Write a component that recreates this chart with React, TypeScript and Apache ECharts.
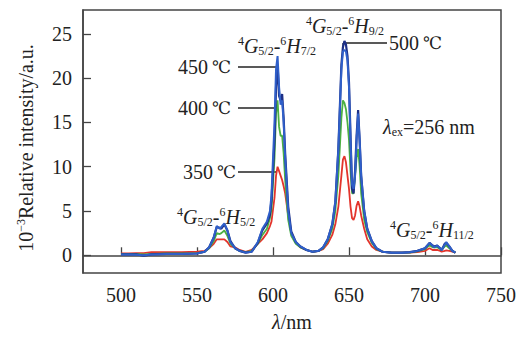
import React, { useEffect, useRef } from "react";
import * as echarts from "echarts";

const FONT = "Liberation Serif";
const TXT = "#222";

const wavelengths = [
  500, 505, 510, 515, 520, 530, 540, 550, 555, 558, 561, 563, 565, 566, 568, 570, 572, 575, 578, 582,
  586, 590, 593, 596, 598, 599, 601, 602, 603, 604, 605, 606, 607, 608, 610, 612, 615, 618, 622, 626,
  630, 633, 636, 639, 641, 643, 645, 646, 647, 648, 649, 650, 651, 652, 653, 654, 655, 656, 657, 658,
  660, 662, 665, 668, 672, 678, 685, 690, 695, 700, 702, 703, 705, 706, 708, 710, 711, 713, 714, 716,
  718, 720,
];

const t350 = [
  0.2, 0.2, 0.25, 0.25, 0.35, 0.35, 0.35, 0.4, 0.5, 0.8, 1.3, 1.8, 1.8, 1.8, 1.8, 1.5, 1.0, 0.9, 0.6, 0.4,
  0.6, 1.3, 1.8, 2.5, 3.3, 3.8, 6.5, 9, 10, 9.5, 9, 8.5, 7.8, 7, 4.5, 2.5, 1.4, 0.9, 0.6, 0.4,
  0.5, 0.7, 1.3, 2.3, 3.5, 5.5, 9, 10.8, 11.2, 10.5, 9, 7.5, 5.5, 4.2, 4, 4.5, 5.6, 6.1, 5.5, 4.5,
  3, 1.8, 1, 0.6, 0.4, 0.3, 0.3, 0.3, 0.35, 0.5, 0.7, 0.8, 0.6, 0.6, 0.6, 0.5, 0.4, 0.5, 0.55, 0.5,
  0.4, 0.3,
];

const t400 = [
  0.15, 0.15, 0.15, 0.1, 0.15, 0.2, 0.2, 0.25, 0.4, 0.8, 1.6, 2.5, 2.4, 2.5, 2.8, 2.2, 1.3, 0.8, 0.5, 0.35,
  0.5, 1.3, 2.3, 3.0, 4.2, 5.2, 11, 16, 17.5, 14.5, 13.5, 13.5, 11.5, 8.5, 4, 2.2, 1.3, 0.9, 0.6, 0.4,
  0.5, 0.8, 1.6, 3.0, 5, 9, 15.5, 17.5, 17.2, 16.5, 15, 13, 9.5, 7, 7, 9, 11, 12, 10, 7,
  4, 2.6, 1.4, 0.7, 0.4, 0.3, 0.3, 0.3, 0.45, 0.7, 1.0, 1.1, 0.9, 0.9, 0.9, 0.7, 0.6, 1.0, 1.1, 0.8,
  0.5, 0.3,
];

const t450 = [
  0.1, 0.1, 0.05, 0.0, 0.1, 0.15, 0.15, 0.2, 0.4, 0.9, 2.0, 3.3, 3.0, 3.2, 3.6, 2.8, 1.5, 0.8, 0.5, 0.3,
  0.4, 1.5, 3.0, 3.8, 5.0, 6.8, 15, 21, 22.5, 19, 17, 17.5, 15, 11, 5, 2.5, 1.5, 1.0, 0.6, 0.4,
  0.5, 0.9, 1.8, 3.5, 6, 12, 21, 23, 23.2, 23, 22, 19, 13, 8, 7.5, 9, 13, 16, 13, 9,
  5, 3, 1.6, 0.8, 0.4, 0.3, 0.3, 0.35, 0.5, 0.8, 1.2, 1.4, 1.1, 0.9, 1.1, 0.8, 0.6, 1.2, 1.5, 1.0,
  0.5, 0.3,
];

const t500 = [
  0.1, 0.1, 0.1, -0.05, 0.1, 0.15, 0.15, 0.2, 0.4, 0.9, 2.0, 3.2, 3.1, 3.0, 3.5, 2.8, 1.6, 0.8, 0.5, 0.3,
  0.4, 1.4, 2.8, 3.6, 4.6, 6.2, 13, 19, 21.5, 18, 17.5, 18.2, 15.5, 11.5, 5.5, 2.7, 1.5, 1.0, 0.6, 0.4,
  0.5, 0.9, 1.8, 3.5, 6, 12, 21.5, 23.5, 24.2, 23.8, 22.5, 19.5, 13.5, 7.5, 7.0, 9.5, 13.5, 16.4, 13, 9,
  5, 3, 1.6, 0.8, 0.4, 0.3, 0.3, 0.35, 0.5, 0.8, 1.2, 1.4, 1.1, 1.0, 1.1, 0.8, 0.6, 1.3, 1.4, 1.0,
  0.5, 0.3,
];

const xTicks = [500, 550, 600, 650, 700, 750];
const yTicks = [0, 5, 10, 15, 20, 25];

const rich: any = {
  n: { fontSize: 20, fontFamily: FONT, color: TXT, lineHeight: 22 },
  i: { fontSize: 20, fontFamily: FONT, fontStyle: "italic", color: TXT, lineHeight: 22 },
  sup: { fontSize: 12, fontFamily: FONT, color: TXT, lineHeight: 12, verticalAlign: "top" },
  sub: { fontSize: 12, fontFamily: FONT, color: TXT, lineHeight: 12, verticalAlign: "bottom" },
};

const trans = (lower: string) => `{sup|4}{i|G}{sub|5/2}{n|-}{sup|6}{i|H}{sub|${lower}}`;

const txt = (x: number, y: number, text: string, align = "left") => ({
  type: "text",
  x,
  y,
  style: { text, rich, align, verticalAlign: "middle", fill: TXT, font: `20px '${FONT}'` },
});

const plain = (x: number, y: number, text: string, align: string, font: string) => ({
  type: "text",
  x,
  y,
  style: { text, align, verticalAlign: "middle", fill: TXT, font },
});

// temperature label: number then the ℃ sign as its own text element
const temp = (xRight: number, y: number, t: string) => [
  plain(xRight - 23, y, t, "right", `20px '${FONT}'`),
  plain(xRight, y, "℃", "right", `17px 'DejaVu Serif', 'Noto Sans CJK SC', serif`),
];

const line = (x1: number, y1: number, x2: number, y2: number) => ({
  type: "line",
  shape: { x1, y1, x2, y2 },
  style: { stroke: "#222", lineWidth: 1.3 },
});

export default function App() {
  const ref = useRef<HTMLDivElement>(null);
  useEffect(() => {
    document.body.style.margin = "0";
    if (!ref.current) return;
    const chart = echarts.init(ref.current, null, { renderer: "svg" });
    const mk = (name: string, vals: number[], color: string, width: number) => ({
      name,
      type: "line",
      data: wavelengths.map((w, i) => [w, vals[i]]),
      showSymbol: false,
      lineStyle: { color, width },
      itemStyle: { color },
    });
    chart.setOption({
      animation: false,
      backgroundColor: "#fff",
      grid: {
        left: 83,
        right: 19,
        top: 10,
        bottom: 59,
        show: true,
        borderColor: "#444",
        borderWidth: 1.5,
        backgroundColor: "transparent",
      },
      xAxis: {
        type: "value",
        min: 475,
        max: 750,
        name: "{i|λ}{n|/nm}",
        nameLocation: "middle",
        nameGap: 38,
        nameTextStyle: { rich },
        axisLine: { lineStyle: { color: "#444", width: 1.5 } },
        axisTick: { inside: true, length: 8, customValues: xTicks, lineStyle: { color: "#444", width: 1.3 } },
        axisLabel: { customValues: xTicks, margin: 12, fontSize: 20, fontFamily: FONT, color: TXT },
        splitLine: { show: false },
      },
      yAxis: {
        type: "value",
        min: -2,
        max: 27.7,
        axisLine: { show: true, lineStyle: { color: "#444", width: 1.5 } },
        axisTick: { show: true, inside: true, length: 8, customValues: yTicks, lineStyle: { color: "#444", width: 1.3 } },
        axisLabel: { customValues: yTicks, margin: 11, fontSize: 20, fontFamily: FONT, color: TXT },
        splitLine: { show: false },
      },
      series: [
        mk("350 ℃", t350, "#e3342c", 1.8),
        mk("400 ℃", t400, "#4cb043", 1.8),
        mk("500 ℃", t500, "#1d2f86", 2.2),
        mk("450 ℃", t450, "#2f5fc9", 2),
      ],
      graphic: [
        {
          type: "text",
          x: 26,
          y: 148,
          rotation: Math.PI / 2,
          style: {
            text: "{n|10}{sup|−3}{n|Relative intensity/a.u.}",
            rich,
            align: "center",
            verticalAlign: "middle",
            fill: TXT,
          },
        },
        txt(277, 46, trans("7/2"), "center"),
        txt(345, 26, trans("9/2"), "center"),
        txt(177, 217, trans("5/2"), "left"),
        txt(390, 230, trans("11/2"), "left"),
        txt(383, 127, "{i|λ}{sub|ex}{n|=256 nm}", "left"),
        ...temp(231, 67, "450"),
        ...temp(231, 108, "400"),
        ...temp(236, 172, "350"),
        ...temp(442, 43, "500"),
        line(238, 67, 277, 67),
        line(238, 108, 277, 108),
        line(238, 172, 277, 172),
        line(343, 43, 387, 43),
        line(343, 43, 343, 47),
      ],
    });
    return () => chart.dispose();
  }, []);
  return <div ref={ref} style={{ position: "absolute", left: 0, top: 0, width: 520, height: 337 }} />;
}
